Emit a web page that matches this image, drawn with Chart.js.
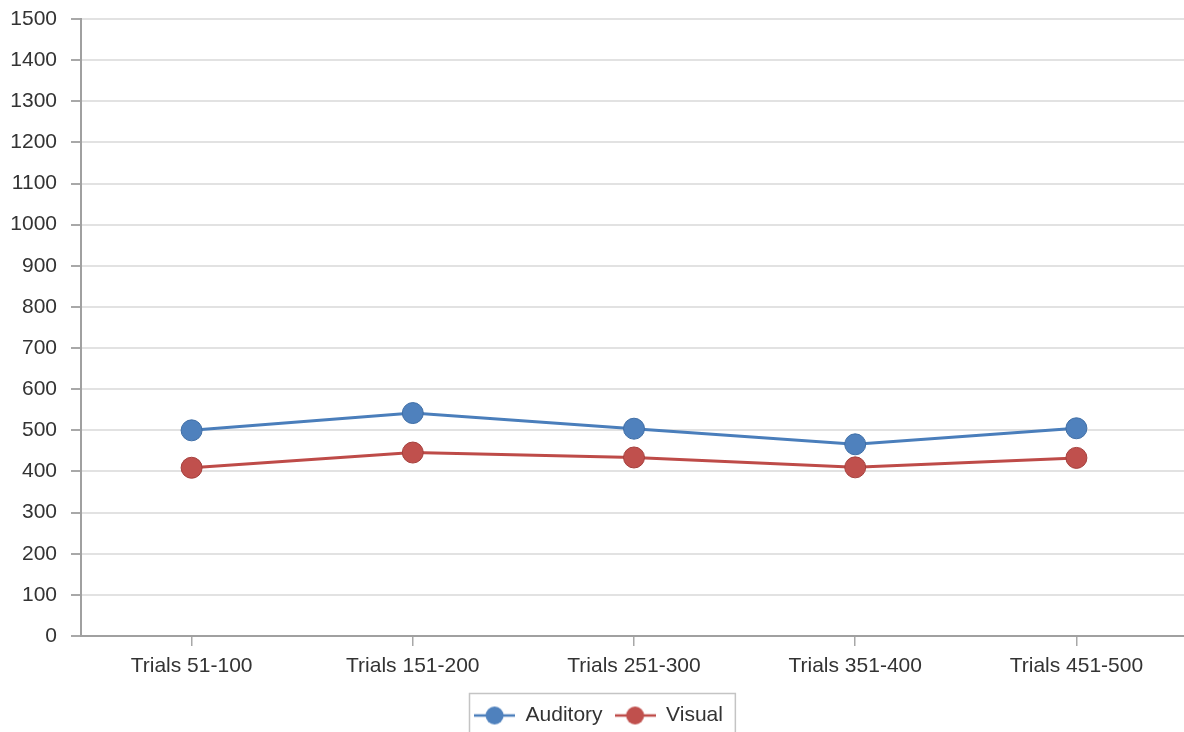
<!DOCTYPE html>
<html><head><meta charset="utf-8">
<script src="https://cdn.jsdelivr.net/npm/chart.js@4"></script>
<style>
html,body{margin:0;padding:0;background:#fff;overflow:hidden;width:1184px;height:732px}
#c{position:absolute;left:0;top:0}
</style></head>
<body><canvas id="c" width="1188" height="736"></canvas>
<script>
const categories = ["Trials 51-100", "Trials 151-200", "Trials 251-300", "Trials 351-400", "Trials 451-500"];
const auditory = [500, 542, 504, 466, 505];
const visual = [409, 446, 434, 410, 433];
const seriesNames = ["Auditory", "Visual"];
const yMin = 0, yMax = 1500, yStep = 100;

const FONT = "'Liberation Sans', Arial, sans-serif";
const TEXT = "#333333";
const blue = {line: "#4a7ebb", fill: "#4f81bd", edge: "#3f6ea6"};
const red = {line: "#be4b48", fill: "#c0504d", edge: "#a53f3c"};

function legendIcon(c) {
  const cv = document.createElement("canvas");
  cv.width = 41; cv.height = 20;
  const g = cv.getContext("2d");
  g.strokeStyle = c.line; g.lineWidth = 2.5;
  g.beginPath(); g.moveTo(0, 10); g.lineTo(41, 10); g.stroke();
  g.fillStyle = c.fill;
  g.beginPath(); g.arc(20.5, 10, 9, 0, Math.PI * 2); g.fill();
  return cv;
}
const icons = [legendIcon(blue), legendIcon(red)];

const LEG_SHIFT = 5;
const legendBorder = {
  id: "legendBorder",
  beforeDraw(chart) {
    const lg = chart.legend;
    if (!lg._shifted) {
      lg.left += LEG_SHIFT; lg.right += LEG_SHIFT;
      (lg.legendHitBoxes || []).forEach(h => { h.left += LEG_SHIFT; });
      lg._shifted = true;
    }
  },
  afterDraw(chart) {
    const lg = chart.legend; const hb = lg.legendHitBoxes;
    if (!hb || !hb.length) return;
    const l = hb[0].left - 5;
    const last = hb[hb.length - 1];
    const r = last.left + last.width + 12;
    const ctx = chart.ctx;
    ctx.save();
    ctx.strokeStyle = "#c4c4c4"; ctx.lineWidth = 1.5;
    ctx.strokeRect(Math.round(l) + 0.5, Math.round(lg.top) + 0.5, r - l, 80);
    ctx.restore();
  }
};

new Chart(document.getElementById("c"), {
  type: "line",
  data: {
    labels: categories,
    datasets: [
      {label: seriesNames[0], data: auditory, borderColor: blue.line, backgroundColor: blue.fill,
       pointBackgroundColor: blue.fill, pointBorderColor: blue.edge, pointBorderWidth: 1,
       pointRadius: 10.5, pointHoverRadius: 10.5, borderWidth: 3, tension: 0},
      {label: seriesNames[1], data: visual, borderColor: red.line, backgroundColor: red.fill,
       pointBackgroundColor: red.fill, pointBorderColor: red.edge, pointBorderWidth: 1,
       pointRadius: 10.5, pointHoverRadius: 10.5, borderWidth: 3, tension: 0}
    ]
  },
  options: {
    responsive: false, animation: false,
    layout: {autoPadding: false, padding: {top: 19, left: 0, right: 1, bottom: 0}},
    plugins: {
      tooltip: {enabled: false},
      legend: {
        position: "bottom",
        labels: {
          usePointStyle: true, pointStyleWidth: 41, boxHeight: 20, padding: 12,
          color: TEXT, font: {family: FONT, size: 21},
          generateLabels(chart) {
            const items = Chart.defaults.plugins.legend.labels.generateLabels(chart);
            items.forEach((it, i) => { it.pointStyle = icons[i]; });
            return items;
          }
        }
      }
    },
    scales: {
      x: {
        offset: true,
        grid: {display: true, drawOnChartArea: false, drawTicks: true, tickLength: 10,
               color: "#a8a8a8", lineWidth: 1.5, offset: false},
        border: {display: true, color: "#a0a0a0", width: 2},
        ticks: {color: TEXT, font: {family: FONT, size: 21}, padding: 8, maxRotation: 0},
        afterFit(s) { s.height = 57; s.paddingLeft = 0; s.paddingRight = 0; }
      },
      y: {
        min: yMin, max: yMax,
        grid: {color: "#e2e2e2", lineWidth: 2, tickLength: 10, tickColor: "#a8a8a8"},
        border: {display: true, color: "#a0a0a0", width: 2},
        ticks: {stepSize: yStep, color: TEXT, font: {family: FONT, size: 21}, padding: 14,
                callback: v => String(v)},
        afterFit(s) { s.width = 81; s.paddingTop = 0; s.paddingBottom = 0; }
      }
    }
  },
  plugins: [legendBorder]
});
</script>
</body></html>
